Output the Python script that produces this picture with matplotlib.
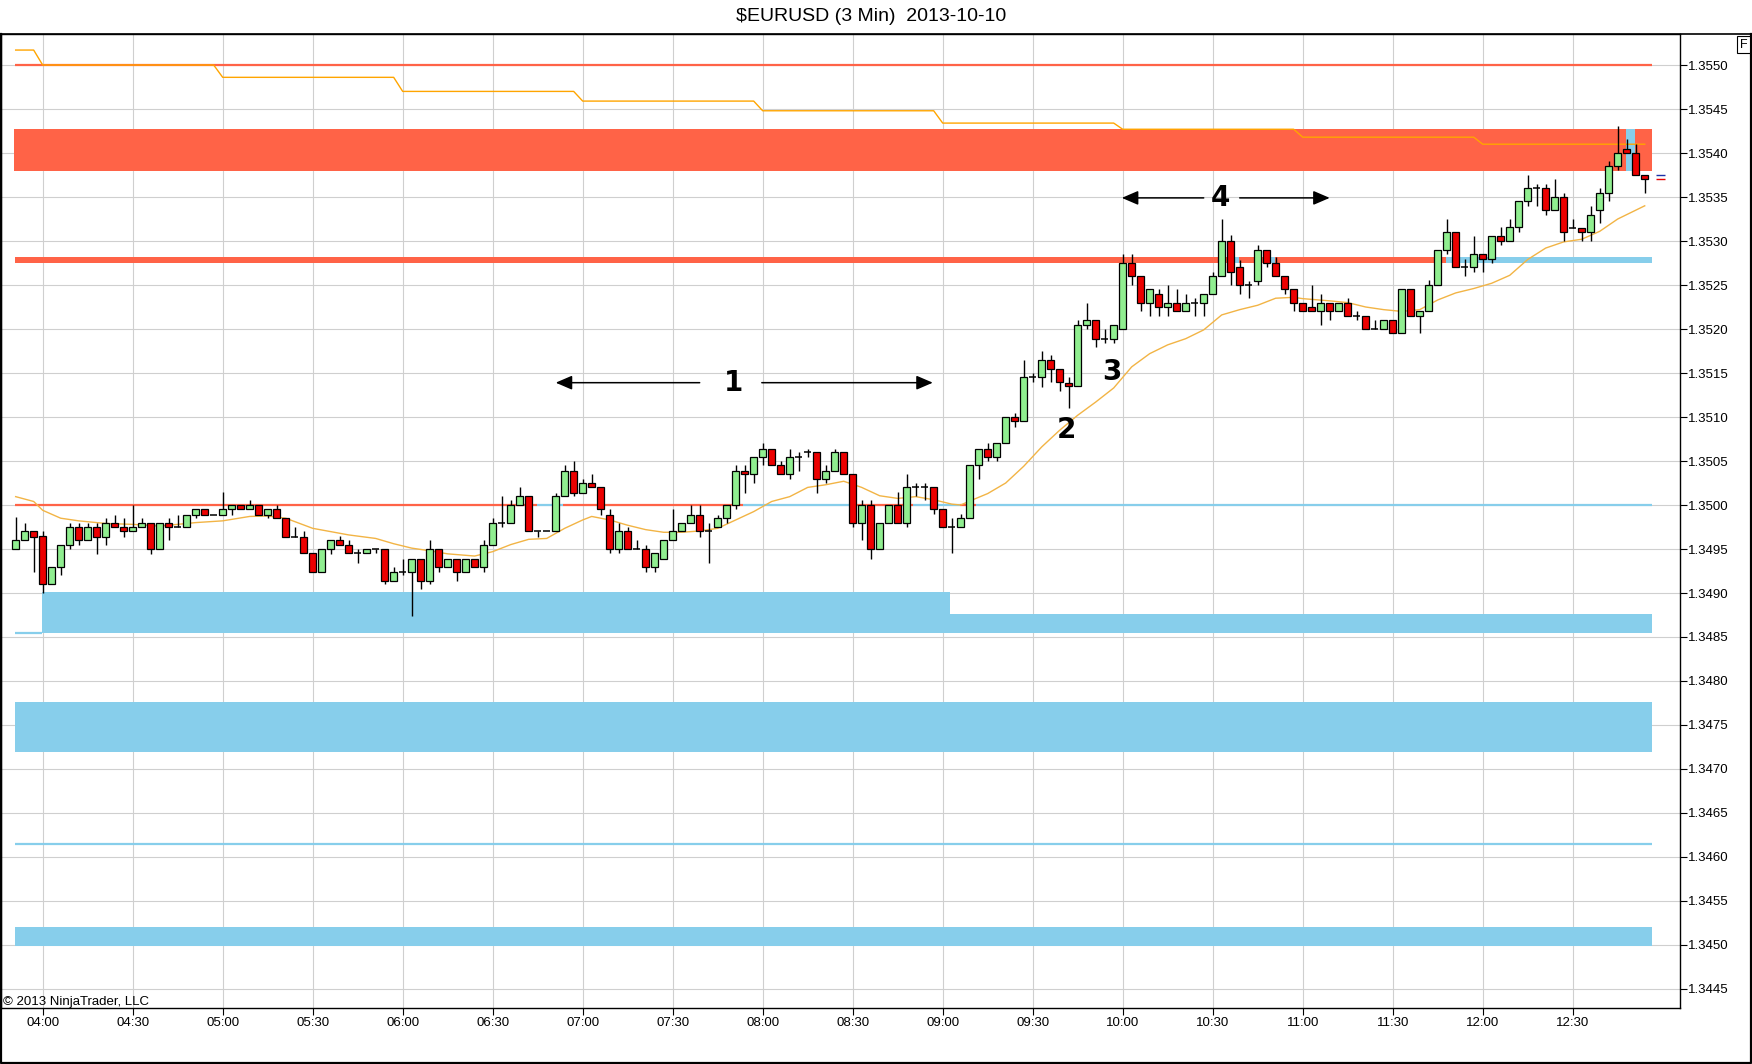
import numpy as np
import matplotlib.pyplot as plt
from matplotlib.lines import Line2D

plt.rcParams['font.family'] = ['Liberation Sans', 'DejaVu Sans']

title = '$EURUSD (3 Min)  2013-10-10'
copyright_note = '\u00a9 2013 NinjaTrader, LLC'

# 3 minute bars, first bar 03:51, last bar 12:54
time_labels = ['04:00', '04:30', '05:00', '05:30', '06:00', '06:30', '07:00', '07:30', '08:00',
               '08:30', '09:00', '09:30', '10:00', '10:30', '11:00', '11:30', '12:00', '12:30']
price_ticks = [1.3445, 1.3450, 1.3455, 1.3460, 1.3465, 1.3470, 1.3475, 1.3480, 1.3485, 1.3490, 1.3495,
               1.3500, 1.3505, 1.3510, 1.3515, 1.3520, 1.3525, 1.3530, 1.3535, 1.3540, 1.3545, 1.3550]

opens = [
    1.34950, 1.34960, 1.34970, 1.34965, 1.34910, 1.34929, 1.34954, 1.34975, 1.34960, 1.34975,
    1.34964, 1.34979, 1.34975, 1.34970, 1.34975, 1.34979, 1.34950, 1.34979, 1.34975, 1.34975,
    1.34989, 1.34995, 1.34989, 1.34989, 1.34995, 1.35000, 1.34995, 1.35000, 1.34989, 1.34995,
    1.34985, 1.34964, 1.34964, 1.34945, 1.34924, 1.34950, 1.34960, 1.34954, 1.34945, 1.34945,
    1.34950, 1.34950, 1.34914, 1.34924, 1.34924, 1.34939, 1.34914, 1.34950, 1.34929, 1.34939,
    1.34924, 1.34939, 1.34929, 1.34954, 1.34979, 1.34979, 1.35000, 1.35010, 1.34970, 1.34970,
    1.34970, 1.35010, 1.35039, 1.35014, 1.35025, 1.35020, 1.34989, 1.34950, 1.34970, 1.34950,
    1.34950, 1.34929, 1.34939, 1.34960, 1.34970, 1.34979, 1.34989, 1.34970, 1.34975, 1.34985,
    1.35000, 1.35039, 1.35035, 1.35055, 1.35064, 1.35045, 1.35035, 1.35055, 1.35060, 1.35060,
    1.35030, 1.35039, 1.35060, 1.35035, 1.34979, 1.35000, 1.34950, 1.34979, 1.35000, 1.34979,
    1.35020, 1.35020, 1.35020, 1.34995, 1.34975, 1.34975, 1.34985, 1.35045, 1.35064, 1.35055,
    1.35070, 1.35100, 1.35095, 1.35145, 1.35145, 1.35165, 1.35155, 1.35139, 1.35135, 1.35205,
    1.35210, 1.35189, 1.35189, 1.35200, 1.35275, 1.35260, 1.35230, 1.35240, 1.35225, 1.35230,
    1.35220, 1.35230, 1.35230, 1.35240, 1.35260, 1.35300, 1.35270, 1.35250, 1.35255, 1.35290,
    1.35275, 1.35260, 1.35245, 1.35230, 1.35225, 1.35220, 1.35230, 1.35220, 1.35230, 1.35215,
    1.35215, 1.35200, 1.35200, 1.35210, 1.35195, 1.35245, 1.35215, 1.35220, 1.35250, 1.35290,
    1.35310, 1.35270, 1.35270, 1.35285, 1.35280, 1.35306, 1.35300, 1.35316, 1.35345, 1.35360,
    1.35360, 1.35335, 1.35350, 1.35315, 1.35315, 1.35310, 1.35335, 1.35355, 1.35385, 1.35405,
    1.35400, 1.35375]

highs = [
    1.34986, 1.34979, 1.34970, 1.34970, 1.34929, 1.34954, 1.34979, 1.34979, 1.34979, 1.34979,
    1.34985, 1.34989, 1.34985, 1.35000, 1.34985, 1.34979, 1.34979, 1.34985, 1.34989, 1.34989,
    1.34995, 1.34995, 1.34989, 1.35015, 1.35000, 1.35000, 1.35006, 1.35000, 1.34995, 1.35000,
    1.34985, 1.34975, 1.34970, 1.34945, 1.34950, 1.34960, 1.34965, 1.34960, 1.34950, 1.34950,
    1.34950, 1.34950, 1.34929, 1.34939, 1.34939, 1.34939, 1.34960, 1.34950, 1.34939, 1.34939,
    1.34939, 1.34939, 1.34960, 1.34985, 1.35010, 1.35006, 1.35020, 1.35010, 1.34970, 1.34970,
    1.35014, 1.35045, 1.35050, 1.35030, 1.35035, 1.35020, 1.34995, 1.34979, 1.34975, 1.34960,
    1.34954, 1.34945, 1.34960, 1.34995, 1.34979, 1.35000, 1.35000, 1.34979, 1.34989, 1.35000,
    1.35045, 1.35045, 1.35055, 1.35070, 1.35064, 1.35050, 1.35064, 1.35060, 1.35064, 1.35060,
    1.35045, 1.35064, 1.35060, 1.35035, 1.35006, 1.35006, 1.34979, 1.35000, 1.35015, 1.35035,
    1.35025, 1.35025, 1.35020, 1.34995, 1.34985, 1.34990, 1.35045, 1.35064, 1.35070, 1.35070,
    1.35100, 1.35105, 1.35165, 1.35150, 1.35175, 1.35170, 1.35155, 1.35145, 1.35210, 1.35230,
    1.35210, 1.35200, 1.35205, 1.35285, 1.35285, 1.35260, 1.35245, 1.35245, 1.35250, 1.35245,
    1.35240, 1.35235, 1.35240, 1.35265, 1.35325, 1.35307, 1.35278, 1.35255, 1.35295, 1.35290,
    1.35282, 1.35260, 1.35245, 1.35230, 1.35250, 1.35240, 1.35230, 1.35230, 1.35235, 1.35220,
    1.35215, 1.35210, 1.35210, 1.35210, 1.35245, 1.35245, 1.35220, 1.35256, 1.35290, 1.35325,
    1.35310, 1.35280, 1.35306, 1.35285, 1.35306, 1.35316, 1.35325, 1.35345, 1.35375, 1.35365,
    1.35365, 1.35370, 1.35355, 1.35325, 1.35315, 1.35340, 1.35360, 1.35391, 1.35431, 1.35416,
    1.35410, 1.35375]

lows = [
    1.34950, 1.34960, 1.34924, 1.34900, 1.34910, 1.34920, 1.34950, 1.34954, 1.34960, 1.34944,
    1.34954, 1.34975, 1.34964, 1.34970, 1.34975, 1.34944, 1.34950, 1.34960, 1.34975, 1.34975,
    1.34985, 1.34989, 1.34989, 1.34989, 1.34989, 1.34995, 1.34995, 1.34989, 1.34985, 1.34985,
    1.34964, 1.34964, 1.34945, 1.34924, 1.34924, 1.34944, 1.34954, 1.34945, 1.34934, 1.34945,
    1.34945, 1.34910, 1.34914, 1.34920, 1.34874, 1.34904, 1.34910, 1.34924, 1.34929, 1.34914,
    1.34924, 1.34929, 1.34924, 1.34954, 1.34975, 1.34979, 1.35000, 1.34970, 1.34964, 1.34970,
    1.34970, 1.35010, 1.35010, 1.35014, 1.35020, 1.34989, 1.34945, 1.34945, 1.34950, 1.34950,
    1.34924, 1.34924, 1.34939, 1.34960, 1.34970, 1.34979, 1.34964, 1.34934, 1.34975, 1.34979,
    1.34995, 1.35014, 1.35025, 1.35045, 1.35045, 1.35035, 1.35030, 1.35039, 1.35055, 1.35014,
    1.35025, 1.35039, 1.35035, 1.34975, 1.34960, 1.34939, 1.34950, 1.34979, 1.34979, 1.34975,
    1.35010, 1.35006, 1.34990, 1.34975, 1.34945, 1.34975, 1.34985, 1.35030, 1.35050, 1.35050,
    1.35070, 1.35089, 1.35095, 1.35140, 1.35134, 1.35140, 1.35130, 1.35110, 1.35135, 1.35200,
    1.35180, 1.35184, 1.35184, 1.35200, 1.35250, 1.35220, 1.35215, 1.35215, 1.35215, 1.35220,
    1.35220, 1.35215, 1.35215, 1.35240, 1.35260, 1.35250, 1.35240, 1.35235, 1.35250, 1.35270,
    1.35260, 1.35240, 1.35220, 1.35220, 1.35220, 1.35205, 1.35210, 1.35220, 1.35215, 1.35210,
    1.35200, 1.35200, 1.35200, 1.35195, 1.35195, 1.35215, 1.35195, 1.35220, 1.35250, 1.35285,
    1.35270, 1.35260, 1.35265, 1.35265, 1.35275, 1.35295, 1.35300, 1.35310, 1.35340, 1.35340,
    1.35330, 1.35335, 1.35300, 1.35315, 1.35300, 1.35300, 1.35320, 1.35345, 1.35381, 1.35400,
    1.35375, 1.35355]

closes = [
    1.34960, 1.34970, 1.34964, 1.34910, 1.34929, 1.34954, 1.34975, 1.34960, 1.34975, 1.34964,
    1.34979, 1.34975, 1.34970, 1.34975, 1.34979, 1.34950, 1.34979, 1.34975, 1.34975, 1.34989,
    1.34995, 1.34989, 1.34989, 1.34995, 1.35000, 1.34995, 1.35000, 1.34989, 1.34995, 1.34985,
    1.34964, 1.34964, 1.34945, 1.34924, 1.34950, 1.34960, 1.34954, 1.34945, 1.34945, 1.34950,
    1.34950, 1.34914, 1.34924, 1.34924, 1.34939, 1.34914, 1.34950, 1.34929, 1.34939, 1.34924,
    1.34939, 1.34929, 1.34954, 1.34979, 1.34979, 1.35000, 1.35010, 1.34970, 1.34970, 1.34970,
    1.35010, 1.35039, 1.35014, 1.35025, 1.35020, 1.34995, 1.34950, 1.34970, 1.34950, 1.34950,
    1.34929, 1.34945, 1.34960, 1.34970, 1.34979, 1.34989, 1.34970, 1.34970, 1.34985, 1.35000,
    1.35039, 1.35035, 1.35055, 1.35064, 1.35045, 1.35035, 1.35055, 1.35055, 1.35060, 1.35030,
    1.35039, 1.35060, 1.35035, 1.34979, 1.35000, 1.34950, 1.34979, 1.35000, 1.34979, 1.35020,
    1.35020, 1.35020, 1.34995, 1.34975, 1.34975, 1.34985, 1.35045, 1.35064, 1.35055, 1.35070,
    1.35100, 1.35095, 1.35145, 1.35145, 1.35165, 1.35155, 1.35140, 1.35135, 1.35205, 1.35210,
    1.35189, 1.35189, 1.35205, 1.35275, 1.35260, 1.35230, 1.35245, 1.35225, 1.35230, 1.35220,
    1.35230, 1.35230, 1.35240, 1.35260, 1.35300, 1.35265, 1.35250, 1.35250, 1.35290, 1.35275,
    1.35260, 1.35245, 1.35230, 1.35220, 1.35220, 1.35230, 1.35220, 1.35230, 1.35215, 1.35215,
    1.35200, 1.35200, 1.35210, 1.35195, 1.35245, 1.35215, 1.35220, 1.35250, 1.35290, 1.35310,
    1.35270, 1.35270, 1.35285, 1.35280, 1.35306, 1.35300, 1.35316, 1.35345, 1.35360, 1.35360,
    1.35335, 1.35350, 1.35310, 1.35315, 1.35310, 1.35330, 1.35355, 1.35385, 1.35400, 1.35400,
    1.35375, 1.35370]

# moving average at these bars
ma_bars = [0, 2, 3, 5, 7, 10, 13, 16, 20, 23, 26, 28, 30, 33, 37, 40, 42, 44, 46, 48,
           51, 53, 55, 57, 59, 61, 63, 64, 66, 68, 70, 72, 74, 76, 78, 80, 82, 84, 86, 88,
           90, 92, 94, 96, 98, 100, 102, 104, 105, 106, 108, 110, 112, 114, 116, 118, 120, 122, 124, 126,
           128, 130, 132, 134, 136, 138, 140, 142, 143, 146, 148, 150, 152, 154, 156, 158, 160, 162, 164, 166,
           168, 170, 172, 174, 176, 178, 180, 181]
ma_values = [1.350095, 1.35004, 1.34994, 1.34985, 1.34982, 1.34979, 1.34978, 1.34976, 1.34980, 1.34982,
             1.34987, 1.349875, 1.34985, 1.349735, 1.34966, 1.34962, 1.34956, 1.34951, 1.34948, 1.349445,
             1.34942, 1.34947, 1.34955, 1.34961, 1.34962, 1.349735, 1.34983, 1.34987, 1.34983, 1.34977,
             1.34972, 1.34969, 1.34969, 1.349705, 1.349735, 1.34983, 1.349925, 1.35004, 1.350095, 1.35020,
             1.35023, 1.35027, 1.35020, 1.350105, 1.350075, 1.350095, 1.35006, 1.35001, 1.35000, 1.350045,
             1.35013, 1.35025, 1.35044, 1.35066, 1.35085, 1.35102, 1.35117, 1.35133, 1.35157, 1.35172,
             1.35182, 1.35189, 1.35199, 1.35216, 1.35222, 1.35227, 1.35235, 1.35236, 1.352345, 1.35232,
             1.35230, 1.35225, 1.35222, 1.35220, 1.35222, 1.35233, 1.35241, 1.35246, 1.35252, 1.35261,
             1.35279, 1.35292, 1.35299, 1.35302, 1.35311, 1.35325, 1.35335, 1.35340]

# stepping orange level
step_bars = [0, 2, 3, 22, 23, 42, 43, 62, 63, 82, 83, 102, 103, 122, 123, 142, 143, 162, 163, 181]
step_levels = [1.35517, 1.35517, 1.35500, 1.35500, 1.35486, 1.35486, 1.35470, 1.35470, 1.35459, 1.35459,
               1.35448, 1.35448, 1.35434, 1.35434, 1.35427, 1.35427, 1.35418, 1.35418, 1.35410, 1.35410]

# zones: price low / high, bar span, colour
zone_lows = [1.35380, 1.35380, 1.35275, 1.35275, 1.35275, 1.35275, 1.34855, 1.34855, 1.34719, 1.34499]
zone_highs = [1.35427, 1.35427, 1.35282, 1.35282, 1.35282, 1.35282, 1.34901, 1.34876, 1.34776, 1.34520]
zone_from = [-0.15, 178.9, -0.1, 135.2, 139.4, 158.9, 2.9, 103.8, -0.05, -0.05]
zone_to = [181.85, 179.9, 158.9, 135.9, 139.9, 181.85, 103.8, 181.85, 181.85, 181.85]
zone_colors = ['#ff6347', '#87ceeb', '#ff6347', '#87ceeb', '#87ceeb', '#87ceeb',
               '#87ceeb', '#87ceeb', '#87ceeb', '#87ceeb']

# thin level lines
line_levels = [1.3550, 1.3500, 1.3500, 1.3500, 1.3500, 1.3500, 1.3500, 1.3500, 1.3500, 1.34855, 1.34615]
line_from = [-0.1, -0.1, 57.9, 60.8, 80.8, 92.7, 99.7, 104.9, 106.7, -0.05, -0.05]
line_to = [181.85, 57.9, 60.8, 80.8, 92.7, 99.7, 104.9, 106.7, 181.85, 2.9, 181.85]
line_colors = ['#ff6347', '#ff6347', '#87ceeb', '#ff6347', '#87ceeb', '#ff6347', '#87ceeb',
               '#ff6347', '#87ceeb', '#87ceeb', '#87ceeb']

# hand drawn annotations
arrow_labels = ['1', '4']
arrow_levels = [1.35139, 1.35349]
arrow_left_tip = [60.0, 122.9]
arrow_left_end = [76.0, 132.0]
arrow_label_x = [79.8, 133.9]
arrow_right_start = [82.9, 136.0]
arrow_right_tip = [101.9, 146.0]
note_labels = ['2', '3']
note_x = [116.8, 121.8]
note_y = [1.35085, 1.35151]

# bid / ask markers right of last bar
bid_ask = [1.35375, 1.35370]

GREEN = '#90ee90'
RED = '#ec0000'

W, H = 1752, 1064
fig = plt.figure(figsize=(W / 100, H / 100), dpi=100)
ax = fig.add_axes([1 / W, 1 - 1008 / H, 1679 / W, (1008 - 34.3) / H])

x = np.arange(len(opens))
o, h, l, c = (np.array(v) for v in (opens, highs, lows, closes))

ax.set_xlim(-1.63, 184.92)
ax.set_ylim(1.344284, 1.355349)

# grid
ax.set_axisbelow(True)
ax.grid(True, color='#cfcfcf', lw=0.8)

for lo, hi, x0, x1, col in zip(zone_lows, zone_highs, zone_from, zone_to, zone_colors):
    ax.broken_barh([(x0, x1 - x0)], (lo, hi - lo), facecolor=col, edgecolor='none', zorder=1)

for lev, x0, x1, col in zip(line_levels, line_from, line_to, line_colors):
    ax.hlines(lev, x0, x1, color=col, lw=1.6, zorder=1.5)

ax.plot(step_bars, step_levels, color='#ffa500', lw=1.0, zorder=2)
ax.plot(ma_bars, ma_values, color='#f2b445', lw=1.0, zorder=2.5)

# candles
up = c > o
down = c < o
flat = c == o
ax.vlines(x, l, h, color='black', lw=1.0, zorder=3)
ax.bar(x[up], (c - o)[up], bottom=o[up], width=0.72, color=GREEN,
       edgecolor='black', linewidth=0.9, zorder=4)
ax.bar(x[down], (o - c)[down], bottom=c[down], width=0.72, color=RED,
       edgecolor='black', linewidth=0.9, zorder=4)
ax.hlines(c[flat], x[flat] - 0.38, x[flat] + 0.38, color='black', lw=1.1, zorder=4)

ax.hlines(bid_ask[0], 182.3, 183.3, color='#1c2fa8', lw=1.0, zorder=4)
ax.hlines(bid_ask[1], 182.3, 183.3, color='#e80000', lw=1.0, zorder=4)

# annotations
arrow_kw = dict(arrowstyle='-|>,head_length=10,head_width=4.3', color='black', lw=1.1,
                mutation_scale=1, shrinkA=0, shrinkB=0)
num_font = dict(fontsize=20, fontweight='bold', family=['DejaVu Sans'])
for lab, lev, lt, le, lx, rs, rt in zip(arrow_labels, arrow_levels, arrow_left_tip, arrow_left_end,
                                         arrow_label_x, arrow_right_start, arrow_right_tip):
    ax.annotate('', xy=(lt, lev), xytext=(le, lev), arrowprops=arrow_kw, zorder=5)
    ax.annotate('', xy=(rt, lev), xytext=(rs, lev), arrowprops=arrow_kw, zorder=5)
    ax.text(lx, lev, lab, ha='center', va='center', zorder=5, **num_font)
for lab, nx, ny in zip(note_labels, note_x, note_y):
    ax.text(nx, ny, lab, ha='center', va='center', zorder=5, **num_font)

# axes
ax.yaxis.tick_right()
ax.set_yticks(price_ticks)
ax.set_yticklabels([f'{p:.4f}' for p in price_ticks])
ax.set_xticks([3 + 10 * k for k in range(len(time_labels))])
ax.set_xticklabels(time_labels)
ax.tick_params(axis='both', direction='out', length=5, width=0.8, labelsize=9.5, colors='black')
ax.tick_params(axis='y', pad=1)
ax.tick_params(axis='x', pad=1.5)
for s in ax.spines.values():
    s.set_color('black')
    s.set_linewidth(1.0)

fig.text(0.497, 1 - 16.7 / H, title, ha='center', va='center', fontsize=14)
fig.text(3 / W, 1 - 1005 / H, copyright_note, ha='left', va='baseline', fontsize=9.5)
fig.text(1743.5 / W, 1 - 44.5 / H, 'F', ha='center', va='center', fontsize=9,
         bbox=dict(boxstyle='square,pad=0.2', fc='white', ec='black', lw=0.8))

# title separator and window frame (left, bottom, right)
sep = 1 - 34.3 / H
fig.add_artist(Line2D([0, 1], [sep, sep], transform=fig.transFigure, color='black', lw=1.2))
fig.add_artist(Line2D([0.0004, 0.0004, 0.9994, 0.9994], [sep, 0.0006, 0.0006, sep],
                      transform=fig.transFigure, color='black', lw=1.6))

fig.savefig('out.png', dpi=100)
